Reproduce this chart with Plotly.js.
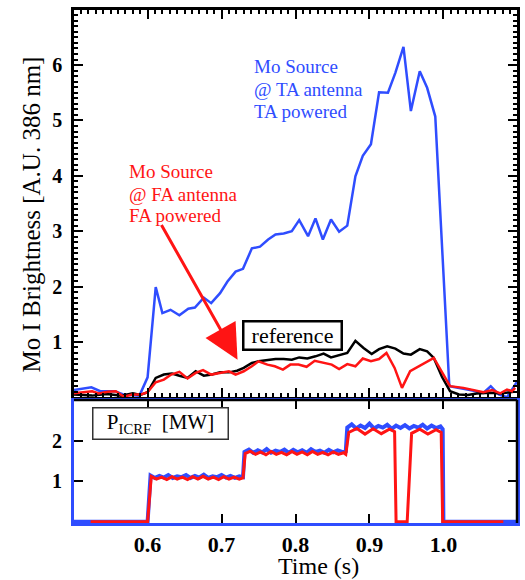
<!DOCTYPE html>
<html><head><meta charset="utf-8">
<script src="https://cdn.plot.ly/plotly-3.0.1.min.js"></script>
<style>
html,body{margin:0;padding:0;background:#fff}
#wrap{position:relative;width:525px;height:580px}
#top{position:absolute;left:0;top:0;width:525px;height:400px}
#bot{position:absolute;left:0;top:398px;width:525px;height:182px}
.modebar-container,.modebar{display:none !important}
</style>
</head><body><div id="wrap"><div id="top"></div><div id="bot"></div></div>
<script>
// ---- Top panel: Mo I brightness (A.U.) ----
const tTA = [0.500,0.524,0.536,0.556,0.567,0.589,0.600,0.611,0.620,0.631,0.643,0.655,0.664,0.676,0.686,0.698,0.708,0.719,0.729,0.741,0.752,0.763,0.773,0.784,0.795,0.805,0.817,0.827,0.837,0.848,0.859,0.870,0.881,0.891,0.902,0.913,0.925,0.935,0.946,0.956,0.968,0.978,0.989,1.008,1.036,1.054,1.064,1.075,1.086,1.100];
const vTA = [0.13,0.18,0.11,0.11,0.05,0.03,0.36,1.99,1.52,1.58,1.48,1.60,1.62,1.80,1.70,1.88,2.09,2.27,2.32,2.69,2.72,2.85,2.94,2.96,3.00,3.20,2.91,3.23,2.85,3.21,2.99,3.10,3.99,4.36,4.57,5.51,5.50,5.86,6.33,5.17,5.89,5.59,5.07,0.20,0.13,0.08,0.20,0.05,0.00,0.29];

const tFA = [0.500,0.525,0.534,0.546,0.557,0.568,0.579,0.591,0.600,0.611,0.622,0.632,0.643,0.654,0.665,0.675,0.686,0.698,0.710,0.719,0.730,0.741,0.750,0.762,0.772,0.783,0.793,0.804,0.815,0.826,0.837,0.849,0.859,0.870,0.881,0.891,0.902,0.913,0.923,0.934,0.944,0.955,0.987,1.009,1.027,1.043,1.054,1.066,1.077,1.086,1.093,1.097];
const vFA = [0.07,0.11,0.07,0.10,0.11,0.01,0.05,0.05,0.09,0.27,0.32,0.41,0.46,0.34,0.44,0.49,0.41,0.44,0.47,0.41,0.47,0.56,0.65,0.59,0.56,0.50,0.59,0.59,0.55,0.66,0.62,0.59,0.51,0.60,0.56,0.70,0.65,0.69,0.80,0.53,0.17,0.47,0.71,0.20,0.17,0.13,0.09,0.13,0.07,0.14,0.11,0.17];

const tRef = [0.500,0.525,0.545,0.565,0.580,0.590,0.600,0.611,0.622,0.633,0.643,0.654,0.665,0.676,0.687,0.698,0.710,0.721,0.730,0.741,0.750,0.762,0.773,0.784,0.795,0.805,0.816,0.827,0.838,0.848,0.859,0.870,0.881,0.892,0.903,0.913,0.924,0.935,0.946,0.956,0.968,0.978,0.987,0.998,1.009,1.021,1.033,1.045,1.063,1.077,1.095];
const vRef = [0.05,0.03,0.06,0.03,0.07,0.04,0.09,0.35,0.41,0.43,0.39,0.35,0.47,0.39,0.41,0.45,0.45,0.48,0.53,0.62,0.65,0.67,0.69,0.69,0.68,0.72,0.70,0.74,0.79,0.72,0.76,0.80,1.02,0.89,0.78,0.87,0.92,0.88,0.79,0.77,0.87,0.83,0.71,0.37,0.11,0.05,0.04,0.07,0.08,0.07,0.10];

// ---- Bottom panel: P_ICRF (MW) ----
const tPowTA = [0.500,0.600,
 0.604,0.610,0.616,0.622,0.628,0.634,0.640,0.646,0.652,0.658,0.664,0.670,0.676,0.682,0.688,0.694,0.700,0.706,0.712,0.718,0.724,0.729,
 0.731,0.737,0.743,0.749,0.755,0.761,0.767,0.773,0.779,0.785,0.791,0.797,0.803,0.809,0.815,0.821,0.827,0.833,0.839,0.845,0.851,0.857,0.863,0.868,
 0.870,0.876,0.882,0.888,0.894,0.900,0.906,0.912,0.918,0.924,0.930,0.936,0.942,0.948,0.954,0.960,0.966,0.972,0.978,0.984,0.990,0.996,0.999,1.000,1.100];
const pTA = [0,0,
 1.14,1.08,1.13,1.09,1.15,1.08,1.12,1.10,1.15,1.08,1.13,1.09,1.16,1.08,1.12,1.10,1.15,1.09,1.13,1.08,1.12,1.10,
 1.72,1.78,1.70,1.76,1.71,1.79,1.70,1.75,1.72,1.78,1.70,1.77,1.71,1.76,1.70,1.79,1.72,1.75,1.70,1.77,1.71,1.76,1.72,1.74,
 2.32,2.40,2.30,2.37,2.31,2.42,2.30,2.36,2.32,2.39,2.29,2.37,2.31,2.38,2.30,2.36,2.32,2.39,2.30,2.37,2.31,2.35,2.28,0,0];

const tPowFA = [0.523,0.600,0.605,0.612,0.619,0.626,0.633,0.640,0.647,0.654,0.661,0.668,0.675,0.682,0.689,0.696,0.703,0.710,0.717,0.724,0.729,
 0.732,0.739,0.746,0.753,0.760,0.767,0.774,0.781,0.788,0.795,0.802,0.809,0.816,0.823,0.830,0.837,0.844,0.851,0.858,0.865,0.868,
 0.872,0.883,0.894,0.905,0.916,0.927,0.934,0.936,0.951,0.957,0.968,0.979,0.990,0.997,0.999,1.081];
const pFA = [0,0,1.12,1.05,1.10,1.04,1.11,1.05,1.10,1.04,1.11,1.05,1.12,1.05,1.10,1.04,1.11,1.05,1.10,1.05,1.08,
 1.68,1.74,1.66,1.72,1.65,1.73,1.66,1.71,1.65,1.73,1.66,1.72,1.65,1.73,1.66,1.71,1.65,1.72,1.66,1.70,1.66,
 2.20,2.30,2.16,2.29,2.17,2.28,2.22,0,0,2.18,2.28,2.16,2.27,2.20,0,0];

// ---- ticks & labels ----
const xTickVals = [0.6, 0.7, 0.8, 0.9, 1.0];
const xTickText = ['<b>0.6</b>', '<b>0.7</b>', '<b>0.8</b>', '<b>0.9</b>', '<b>1.0</b>'];
const y2TickVals = [1, 2];
const y2TickText = ['<b>1</b>\u00a0', '<b>2</b>\u00a0'];
const blueLabel = ['Mo Source', '@ TA antenna', 'TA powered'];
const redLabel = ['Mo Source', '@ FA antenna', 'FA powered'];

const BLUE = '#2f4dff', RED = '#ff1414', SERIF = 'Liberation Serif, Times New Roman, serif';

// ================= top panel =================
const topTraces = [
  {x: tTA, y: vTA, type: 'scatter', mode: 'lines', line: {color: BLUE, width: 2.5}},
  {x: tRef, y: vRef, type: 'scatter', mode: 'lines', line: {color: '#000', width: 2.5}},
  {x: tFA, y: vFA, type: 'scatter', mode: 'lines', line: {color: RED, width: 2.5}}
];

const topAnn = [
  {xref: 'paper', yref: 'paper', x: -0.097, y: 0.4716, text: 'Mo I Brightness [A.U. 386 nm]', textangle: -90,
    showarrow: false, font: {family: SERIF, size: 25, color: '#000'}, xanchor: 'center', yanchor: 'middle'},
  {xref: 'x', yref: 'y', x: 0.7216, y: 0.68, ax: 0.6176, ay: 3.14, axref: 'x', ayref: 'y', text: '',
    showarrow: true, arrowhead: 2, arrowsize: 2.3, arrowwidth: 3, arrowcolor: RED},
  {xref: 'x', yref: 'y', x: 0.7966, y: 1.12, text: 'reference', showarrow: false, xanchor: 'center', yanchor: 'middle',
    width: 92, height: 22, font: {family: SERIF, size: 22, color: '#000'}, bordercolor: '#000', borderwidth: 2.5, borderpad: 2, bgcolor: '#fff'}
];
const bluePy = [67, 90, 112], redPy = [171.5, 195, 216.5];
blueLabel.forEach((s, i) => topAnn.push({xref: 'x', yref: 'y', x: 0.7415, y: (398 - bluePy[i]) / 55.43, xanchor: 'left', yanchor: 'middle',
  text: s, showarrow: false, font: {family: SERIF, size: 19, color: BLUE}}));
redLabel.forEach((s, i) => topAnn.push({xref: 'x', yref: 'y', x: 0.5716, y: (398 - redPy[i]) / 55.43, xanchor: 'left', yanchor: 'middle',
  text: s, showarrow: false, font: {family: SERIF, size: 19, color: RED}}));

const topLayout = {
  width: 525, height: 400,
  margin: {l: 74, r: 8, t: 10, b: 3},
  showlegend: false,
  xaxis: {range: [0.5005, 1.0995], dtick: 0.1, tick0: 0.5, ticks: 'inside', ticklen: 9, tickwidth: 2, tickcolor: '#000',
    showline: true, mirror: 'allticks', linecolor: '#000', linewidth: 2.5, showgrid: false, zeroline: false, showticklabels: false,
    minor: {dtick: 0.01, ticks: 'inside', ticklen: 4, tickcolor: '#000'}},
  yaxis: {range: [0.005, 6.995], dtick: 1, tick0: 0, ticks: 'inside', ticklen: 9, tickwidth: 2, tickcolor: '#000',
    showline: true, mirror: 'allticks', linecolor: '#000', linewidth: 2.5, showgrid: false, zeroline: false,
    tickprefix: '<b>', ticksuffix: '</b>\u00a0', tickfont: {family: SERIF, size: 20, color: '#000'},
    minor: {dtick: 0.1, ticks: 'inside', ticklen: 4, tickcolor: '#000'}},
  annotations: topAnn
};

// ================= bottom panel =================
const botTraces = [
  {x: tPowTA, y: pTA, type: 'scatter', mode: 'lines', line: {color: BLUE, width: 4}},
  {x: tPowFA, y: pFA, type: 'scatter', mode: 'lines', line: {color: RED, width: 3}}
];

const botLayout = {
  width: 525, height: 182,
  margin: {l: 74, r: 8, t: 2, b: 57},
  showlegend: false,
  paper_bgcolor: 'rgba(0,0,0,0)',
  xaxis: {range: [0.5005, 1.0995], tickmode: 'array', tickvals: xTickVals, ticktext: xTickText,
    tickfont: {family: SERIF, size: 22, color: '#000'},
    ticks: 'inside', ticklen: 9, tickwidth: 2, tickcolor: '#000', showline: true, mirror: 'allticks', linecolor: BLUE, linewidth: 3,
    layer: 'below traces', showgrid: false, zeroline: false},
  yaxis: {range: [-0.03, 3], tickmode: 'array', tickvals: y2TickVals, ticktext: y2TickText,
    tickfont: {family: SERIF, size: 20, color: '#000'},
    ticks: 'inside', ticklen: 9, tickwidth: 2, tickcolor: '#000', showline: true, mirror: 'allticks', linecolor: BLUE, linewidth: 3,
    showgrid: false, zeroline: false},
  shapes: [
    {type: 'line', xref: 'paper', yref: 'paper', x0: 0, y0: 1, x1: 1, y1: 1, line: {color: '#000', width: 2.5}, layer: 'above'},
    {type: 'line', xref: 'paper', yref: 'paper', x0: 1, y0: 0, x1: 1, y1: 1, line: {color: '#000', width: 2.5}, layer: 'above'}
  ],
  annotations: [
    {xref: 'paper', yref: 'paper', x: 0.551, y: -0.3496, text: 'Time (s)', showarrow: false,
      font: {family: SERIF, size: 24, color: '#000'}, xanchor: 'center', yanchor: 'middle'},
    {xref: 'x', yref: 'y', x: 0.6176, y: 2.43, text: 'P<sub>ICRF</sub>  [MW]', showarrow: false, xanchor: 'center', yanchor: 'middle',
      width: 130, height: 26, font: {family: SERIF, size: 21, color: '#000'}, bordercolor: '#333', borderwidth: 1.5, borderpad: 2, bgcolor: '#fff'}
  ]
};

Plotly.newPlot('top', topTraces, topLayout);
Plotly.newPlot('bot', botTraces, botLayout);
</script></body></html>
